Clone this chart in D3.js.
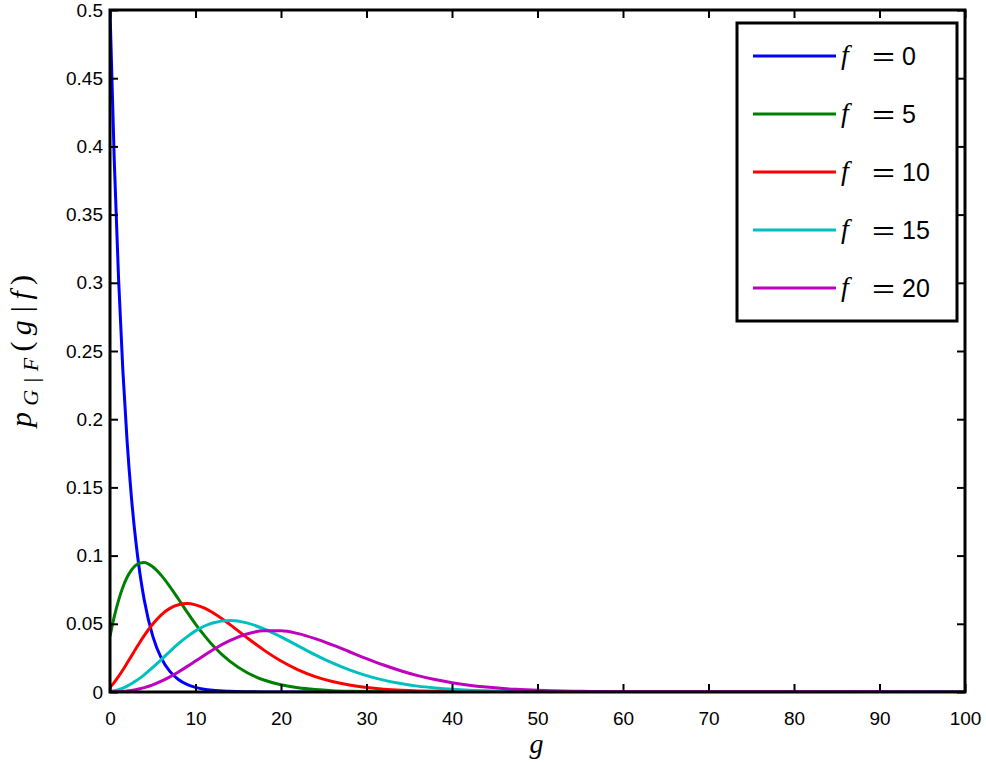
<!DOCTYPE html>
<html>
<head>
<meta charset="utf-8">
<script src="https://cdn.jsdelivr.net/npm/d3@7"></script>
<style>
  body { margin: 0; background: #fff; }
  text { font-family: "Liberation Sans", Arial, sans-serif; }
</style>
</head>
<body>
<script>
const gValues = [0, 0.5, 1, 1.5, 2, 2.5, 3, 3.5, 4, 5, 6, 7, 8, 9, 10, 11, 12, 14, 16, 18, 20,
  22, 24, 26, 28, 30, 32, 34, 36, 38, 40, 42, 44, 46, 48, 50, 55, 60, 100];

// p_{G|F}(g|f) for each f
const pF0 = [0.5, 0.3894, 0.3033, 0.2362, 0.1839, 0.1433, 0.1116, 0.0869, 0.0677, 0.0410, 0.0249,
  0.0151, 0.0092, 0.0056, 0.0034, 0.0020, 0.0012, 0.00046, 0.00017, 0.00006, 0.00002,
  0, 0, 0, 0, 0, 0, 0, 0, 0, 0, 0, 0, 0, 0, 0, 0, 0, 0];
const pF5 = [0.0410, 0.0553, 0.0672, 0.0768, 0.0841, 0.0894, 0.0928, 0.0945, 0.0950, 0.0918, 0.0855,
  0.0773, 0.0682, 0.0588, 0.0498, 0.0417, 0.0343, 0.0226, 0.0143, 0.0088, 0.0053,
  0.0031, 0.0018, 0.0010, 0.00055, 0.0003, 0.00017, 0.00009, 0.00005, 0.00003, 0.00001,
  0, 0, 0, 0, 0, 0, 0, 0];
const pF10 = [0.0034, 0.0071, 0.0114, 0.0161, 0.0212, 0.0263, 0.0315, 0.0365, 0.0413, 0.0498, 0.0566,
  0.0613, 0.0640, 0.0648, 0.0639, 0.0616, 0.0583, 0.0496, 0.0399, 0.0307, 0.0227,
  0.0163, 0.0113, 0.0077, 0.0051, 0.0033, 0.0021, 0.0013, 0.0008, 0.0005, 0.0003,
  0.00018, 0.00011, 0.00006, 0.00004, 0.00002, 0, 0, 0];
const pF15 = [0.0003, 0.0009, 0.0017, 0.0028, 0.0043, 0.0060, 0.0080, 0.0102, 0.0126, 0.0180, 0.0238,
  0.0297, 0.0354, 0.0404, 0.0448, 0.0482, 0.0506, 0.0524, 0.0507, 0.0463, 0.0404,
  0.0338, 0.0272, 0.0213, 0.0162, 0.0120, 0.0087, 0.0062, 0.0043, 0.0030, 0.0020,
  0.0013, 0.0009, 0.0006, 0.0004, 0.0002, 0.00007, 0.00002, 0];
const pF20 = [0.00002, 0.0001, 0.00024, 0.00045, 0.00076, 0.0012, 0.0017, 0.0024, 0.0032, 0.0052, 0.0079,
  0.0111, 0.0147, 0.0186, 0.0227, 0.0268, 0.0308, 0.0376, 0.0425, 0.0449, 0.0449,
  0.0428, 0.0391, 0.0345, 0.0295, 0.0245, 0.0198, 0.0156, 0.0120, 0.0091, 0.0068,
  0.0050, 0.0036, 0.0025, 0.0018, 0.0012, 0.0005, 0.00016, 0];

const fLabels = ["0", "5", "10", "15", "20"];
const colors = ["#0000ff", "#008000", "#ff0000", "#00bfbf", "#bf00bf"];
const xTicks = [0, 10, 20, 30, 40, 50, 60, 70, 80, 90, 100];
const yTicks = [0, 0.05, 0.1, 0.15, 0.2, 0.25, 0.3, 0.35, 0.4, 0.45, 0.5];

const series = [pF0, pF5, pF10, pF15, pF20].map((vals, i) => ({
  label: fLabels[i],
  color: colors[i],
  points: gValues.map((g, j) => ({ g: g, p: vals[j] }))
}));

const width = 986, height = 762;
const plotL = 110, plotR = 965, plotT = 10, plotB = 692;

const svg = d3.select("body").append("svg")
  .attr("width", width)
  .attr("height", height);

const x = d3.scaleLinear().domain([0, 100]).range([plotL, plotR]);
const y = d3.scaleLinear().domain([0, 0.5]).range([plotB, plotT]);

svg.append("clipPath").attr("id", "plotclip")
  .append("rect")
  .attr("x", plotL).attr("y", plotT - 2)
  .attr("width", plotR - plotL).attr("height", plotB - plotT + 2);

// curves
const line = d3.line()
  .x((d) => x(d.g))
  .y((d) => y(d.p))
  .curve(d3.curveMonotoneX);

svg.append("g").attr("clip-path", "url(#plotclip)")
  .selectAll("path")
  .data(series)
  .enter()
  .append("path")
    .attr("fill", "none")
    .attr("stroke", (d) => d.color)
    .attr("stroke-width", 3)
    .attr("d", (d) => line(d.points));

// axes, ticks pointing inward like matlab
function styleAxis(g) {
  g.select(".domain").remove();
  g.selectAll(".tick line").attr("stroke", "#000").attr("stroke-width", 2);
  g.selectAll(".tick text").attr("fill", "#000").style("font-size", "19px");
}

svg.append("g")
  .attr("transform", "translate(0," + plotB + ")")
  .call(d3.axisBottom(x).tickValues(xTicks).tickSize(-8).tickPadding(20).tickFormat((d) => String(d)))
  .call(styleAxis);

svg.append("g")
  .attr("transform", "translate(0," + plotT + ")")
  .call(d3.axisTop(x).tickValues(xTicks).tickSize(-8).tickFormat(""))
  .call(styleAxis);

svg.append("g")
  .attr("transform", "translate(" + plotL + ",0)")
  .call(d3.axisLeft(y).tickValues(yTicks).tickSize(-8).tickPadding(7).tickFormat((d) => String(d)))
  .call(styleAxis);

svg.append("g")
  .attr("transform", "translate(" + plotR + ",0)")
  .call(d3.axisRight(y).tickValues(yTicks).tickSize(-8).tickFormat(""))
  .call(styleAxis);

// frame
svg.append("rect")
  .attr("x", plotL).attr("y", plotT)
  .attr("width", plotR - plotL).attr("height", plotB - plotT)
  .attr("fill", "none")
  .attr("stroke", "#000")
  .attr("stroke-width", 3);

// axis labels
svg.append("text")
  .attr("x", (plotL + plotR) / 2 - 1)
  .attr("y", 753)
  .attr("text-anchor", "middle")
  .style("font-family", "'Liberation Serif', serif")
  .style("font-style", "italic")
  .style("font-size", "28px")
  .text("g");

let ylab = svg.append("text")
  .attr("transform", "translate(31,351)rotate(-90)")
  .attr("text-anchor", "middle")
  .attr("textLength", 152)
  .attr("lengthAdjust", "spacing")
  .style("font-family", "'Liberation Serif', serif")
  .style("font-style", "italic")
  .style("font-size", "30px");
ylab.append("tspan").text("p");
ylab.append("tspan").attr("dy", 7).style("font-size", "22px").text("G|F");
ylab.append("tspan").attr("dy", -7).style("font-style", "normal").text("(");
ylab.append("tspan").text("g|f");
ylab.append("tspan").style("font-style", "normal").text(")");

// legend
const legX = 737, legY = 23, legW = 220, legH = 298, rowGap = 58, firstRow = 56;
svg.append("rect")
  .attr("x", legX).attr("y", legY)
  .attr("width", legW).attr("height", legH)
  .attr("fill", "#fff")
  .attr("stroke", "#000")
  .attr("stroke-width", 3);

const rows = svg.selectAll(".legrow")
  .data(series)
  .enter()
  .append("g")
    .attr("class", "legrow")
    .attr("transform", (d, i) => "translate(0," + (firstRow + i * rowGap) + ")");

rows.append("line")
  .attr("x1", 753).attr("x2", 836)
  .attr("y1", 0).attr("y2", 0)
  .attr("stroke", (d) => d.color)
  .attr("stroke-width", 3);

rows.append("text")
  .attr("x", 841).attr("y", 8)
  .style("font-family", "'Liberation Serif', serif")
  .style("font-style", "italic")
  .style("font-size", "28px")
  .text("f");

rows.append("text")
  .attr("x", 872).attr("y", 9)
  .attr("textLength", 23)
  .attr("lengthAdjust", "spacingAndGlyphs")
  .style("font-size", "26px")
  .text("=");

rows.append("text")
  .attr("x", 902).attr("y", 9)
  .style("font-size", "25px")
  .text((d) => d.label);
</script>
</body>
</html>
